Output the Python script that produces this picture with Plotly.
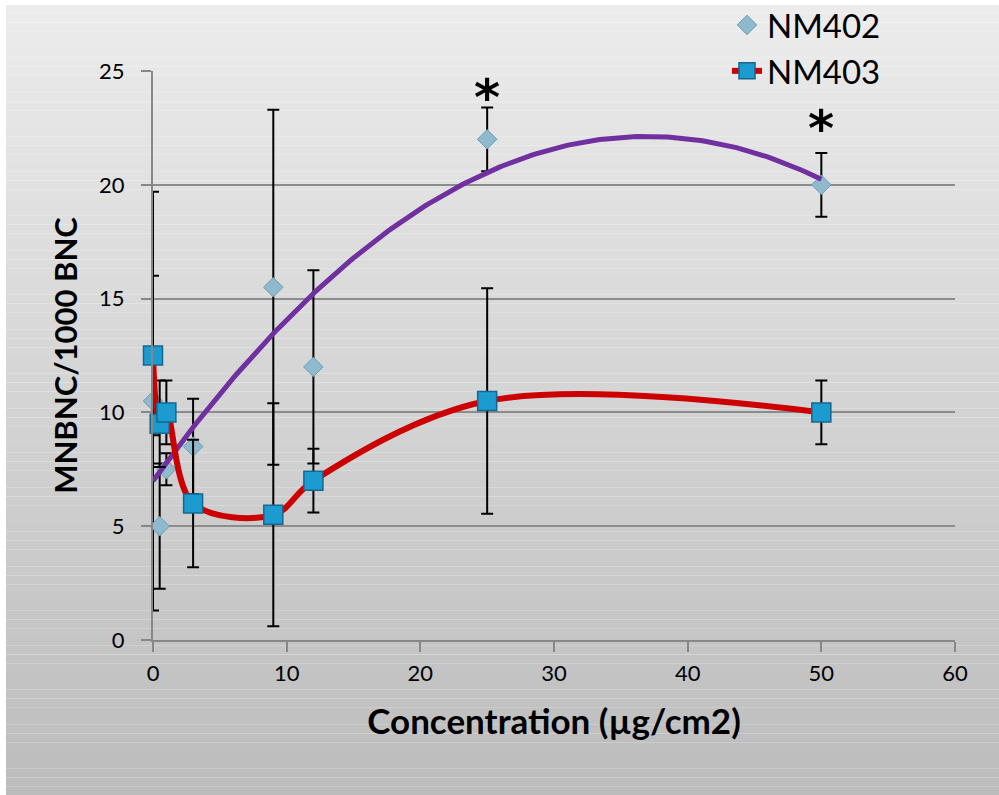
import numpy as np
import plotly.graph_objects as go

# ---- data ----
conc = [0, 0.5, 1, 3, 9, 12, 25, 50]
nm402 = [10.5, 5.0, 7.5, 8.5, 15.5, 12.0, 22.0, 20.0]
nm402_err = [9.2, 2.75, 0.7, 2.1, 7.8, 4.25, 1.4, 1.4]
nm403 = [12.5, 9.5, 10.0, 6.0, 5.5, 7.0, 10.5, 10.0]
nm403_err = [3.5, 1.9, 1.4, 2.8, 4.9, 1.4, 4.95, 1.4]
star_x = [25, 50]
star_y = [24.2, 22.85]
x_ticks = [0, 10, 20, 30, 40, 50, 60]
y_ticks = [0, 5, 10, 15, 20, 25]

FONT = "Lato"
W, H = 999, 795
L, R, T, B = 153, 44, 71, 155
pw, ph = W - L - R, H - T - B

# 2nd-order polynomial trendline fitted to NM402 (as Excel does)
coef = np.polyfit(conc, nm402, 2)
tx = np.linspace(min(conc), max(conc), 200)
ty = np.polyval(coef, tx)

fig = go.Figure()

fig.add_trace(go.Scatter(
    x=conc, y=nm402, mode="markers", name="NM402", cliponaxis=False,
    marker=dict(symbol="diamond", size=15, color="#8fbacd",
                line=dict(color="#6d9db3", width=1)),
    error_y=dict(type="data", array=nm402_err, visible=True,
                 color="black", thickness=2, width=6),
))
fig.add_trace(go.Scatter(
    x=tx, y=ty, mode="lines", showlegend=False, hoverinfo="skip", cliponaxis=False,
    line=dict(color="#7030a0", width=5),
))
fig.add_trace(go.Scatter(
    x=conc, y=nm403, mode="lines+markers", name="NM403", cliponaxis=False,
    line=dict(color="#cc0000", width=6, shape="spline", smoothing=1),
    marker=dict(symbol="square", size=19, color="#1c9bd0",
                line=dict(color="#14688f", width=1.5)),
    error_y=dict(type="data", array=nm403_err, visible=True,
                 color="black", thickness=2, width=6),
))

for sx, sy in zip(star_x, star_y):
    fig.add_annotation(x=sx, y=sy, text="<b>*</b>",
                       showarrow=False, yanchor="bottom", yshift=-40,
                       font=dict(family="DejaVu Sans", size=50, color="black"))

# vertical gradient background (figure pixel bands -> paper coords)
shapes = []
top_px, bot_px, left_px = 5, H, 6
n = 90
c_top, c_bot = 236, 188
for k in range(n):
    y0p = top_px + (bot_px - top_px) * k / n
    y1p = top_px + (bot_px - top_px) * (k + 1) / n
    c = round(c_top + (c_bot - c_top) * (k + 0.5) / n)
    shapes.append(dict(
        type="rect", xref="paper", yref="paper", layer="below",
        x0=(left_px - L) / pw, x1=(W - L) / pw,
        y0=(H - B - y1p) / ph, y1=(H - B - y0p) / ph,
        fillcolor=f"rgb({c},{c},{c})", line=dict(width=0)))

fig.update_layout(
    width=W, height=H,
    margin=dict(l=L, r=R, t=T, b=B, autoexpand=False),
    paper_bgcolor="white", plot_bgcolor="rgba(0,0,0,0)",
    shapes=shapes,
    font=dict(family=FONT, color="black"),
    showlegend=True,
    legend=dict(x=(727 - L) / pw, y=(H - B + 3) / ph, xanchor="left", yanchor="top",
                bgcolor="rgba(0,0,0,0)", font=dict(family=FONT, size=33, color="black"),
                tracegroupgap=0, itemwidth=30),
    xaxis=dict(
        range=[0, 60], tickvals=x_ticks, ticktext=[str(v) for v in x_ticks],
        showgrid=False, zeroline=False, showline=True, linecolor="#878787", linewidth=2,
        ticks="outside", ticklen=10, tickcolor="#878787", tickwidth=1.5,
        tickfont=dict(family=FONT, size=22), ticklabelstandoff=3,
        title=dict(text="<b>Concentration (µg/cm2)</b>", font=dict(family=FONT, size=35),
                   standoff=24),
    ),
    yaxis=dict(
        range=[0, 25], tickvals=y_ticks, ticktext=[str(v) for v in y_ticks],
        showgrid=True, gridcolor="#8c8c8c", gridwidth=1.5, zeroline=False,
        showline=True, linecolor="#878787", linewidth=2,
        ticks="outside", ticklen=10, tickcolor="#878787", tickwidth=1.5,
        tickfont=dict(family=FONT, size=22), ticklabelstandoff=12,
        title=dict(text="<b>MNBNC/1000 BNC</b>", font=dict(family=FONT, size=31),
                   standoff=12),
    ),
)

fig.write_html("out.html")
